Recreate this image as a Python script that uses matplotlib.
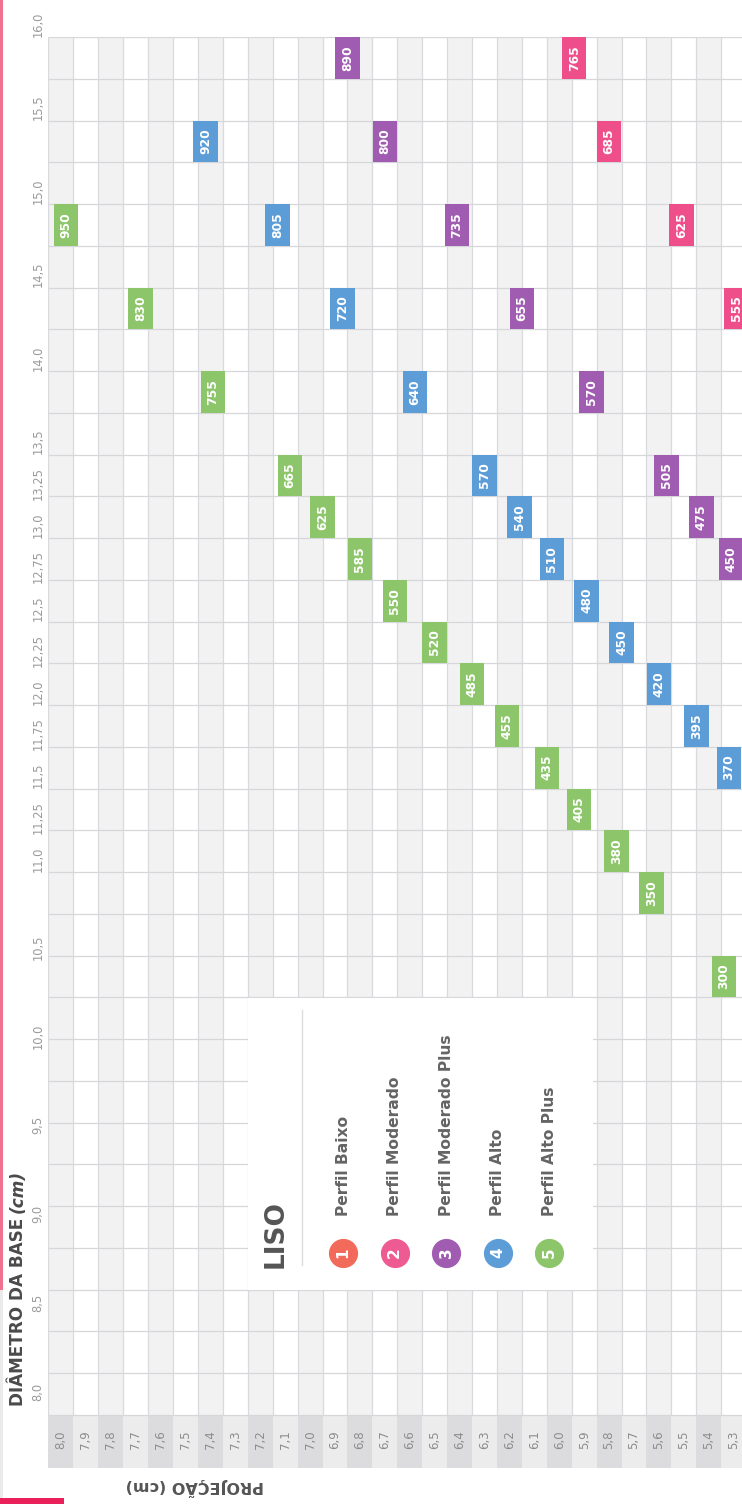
import numpy as np
import matplotlib
matplotlib.use('Agg')
import matplotlib.pyplot as plt
from matplotlib.patches import Rectangle

plt.rcParams['font.family'] = ['DejaVu Sans']

# data
#-------------------------------------------------------------------------------
# projection columns (cm), left to right
projCols = [8.0, 7.9, 7.8, 7.7, 7.6, 7.5, 7.4, 7.3, 7.2, 7.1, 7.0, 6.9, 6.8, 6.7,
            6.6, 6.5, 6.4, 6.3, 6.2, 6.1, 6.0, 5.9, 5.8, 5.7, 5.6, 5.5, 5.4, 5.3]
projLabels = ['8,0', '7,9', '7,8', '7,7', '7,6', '7,5', '7,4', '7,3', '7,2', '7,1',
              '7,0', '6,9', '6,8', '6,7', '6,6', '6,5', '6,4', '6,3', '6,2', '6,1',
              '6,0', '5,9', '5,8', '5,7', '5,6', '5,5', '5,4', '5,3']

# base diameter ticks (cm)
diamTicks = [16.0, 15.5, 15.0, 14.5, 14.0, 13.5, 13.25, 13.0, 12.75, 12.5, 12.25,
             12.0, 11.75, 11.5, 11.25, 11.0, 10.5, 10.0, 9.5, 9.0, 8.5, 8.0]
diamLabels = ['16,0', '15,5', '15,0', '14,5', '14,0', '13,5', '13,25', '13,0',
              '12,75', '12,5', '12,25', '12,0', '11,75', '11,5', '11,25', '11,0',
              '10,5', '10,0', '9,5', '9,0', '8,5', '8,0']

# series: volume, diameter, projection
altoPlusVol  = [950, 830, 755, 665, 625, 585, 550, 520, 485, 455, 435, 405, 380, 350, 300]
altoPlusDiam = [15.0, 14.5, 14.0, 13.5, 13.25, 13.0, 12.75, 12.5, 12.25, 12.0, 11.75,
                11.5, 11.25, 11.0, 10.5]
altoPlusProj = [7.98, 7.68, 7.39, 7.08, 6.95, 6.80, 6.66, 6.50, 6.35, 6.21, 6.05,
                5.92, 5.77, 5.63, 5.34]

altoVol  = [920, 805, 720, 640, 570, 540, 510, 480, 450, 420, 395, 370]
altoDiam = [15.5, 15.0, 14.5, 14.0, 13.5, 13.25, 13.0, 12.75, 12.5, 12.25, 12.0, 11.75]
altoProj = [7.42, 7.13, 6.87, 6.58, 6.30, 6.16, 6.03, 5.89, 5.75, 5.60, 5.45, 5.32]

modPlusVol  = [890, 800, 735, 655, 570, 505, 475, 450]
modPlusDiam = [16.0, 15.5, 15.0, 14.5, 14.0, 13.5, 13.25, 13.0]
modPlusProj = [6.85, 6.70, 6.41, 6.15, 5.87, 5.57, 5.43, 5.31]

modVol  = [765, 685, 625, 555]
modDiam = [16.0, 15.5, 15.0, 14.5]
modProj = [5.94, 5.80, 5.51, 5.29]

legendNames = ['Perfil Baixo', 'Perfil Moderado', 'Perfil Moderado Plus',
               'Perfil Alto', 'Perfil Alto Plus']
legendColors = ['#f26a5a', '#ee5b93', '#a05cb0', '#5c9dd8', '#8dc66a']

# figure
#-------------------------------------------------------------------------------
W, H = 742, 1504
fig = plt.figure(figsize=(W/100, H/100), dpi=100)

pxPerUnitY = 167.0   # pixels per cm of diameter
axTop, axBot = 37, 1468
axLeft = 48.4
ax = fig.add_axes([axLeft/W, (H-axBot)/H, (W-axLeft)/W, (axBot-axTop)/H])
yLow = 8.0 - (axBot - 1373)/pxPerUnitY
ax.set_ylim(yLow, 16.0)
ax.set_xlim(8.05, 8.05 - (W-axLeft)/249.2)
for s in ax.spines.values():
    s.set_visible(False)
ax.set_xticks([])
ax.set_yticks([])

# column shading + header band
gridBot = 7.75
bodyCols = ['#f2f2f3' if i % 2 == 0 else '#ffffff' for i in range(len(projCols))]
headCols = ['#dcdcde' if i % 2 == 0 else '#ececed' for i in range(len(projCols))]
ax.bar(projCols, 16.0-gridBot, bottom=gridBot, width=0.1, color=bodyCols, zorder=0)
ax.bar(projCols, gridBot-yLow, bottom=yLow, width=0.1, color=headCols, zorder=0)

# grid lines
bounds = [p + 0.05 for p in projCols] + [projCols[-1] - 0.05]
ax.vlines(bounds, gridBot, 16.0, color='#d9dadd', lw=0.9, zorder=1)
ax.hlines(np.arange(gridBot, 16.01, 0.25), 8.05, 5.2, color='#d6d7da', lw=0.9, zorder=1)

# header labels
for p, lab in zip(projCols, projLabels):
    ax.text(p, 7.60, lab, rotation=90, ha='center', va='center',
            fontsize=8.5, color='#8c8c8c', zorder=3)

# diameter labels (left side)
for d, lab in zip(diamTicks, diamLabels):
    down = -13 if d >= 11 else -13 + 10.5*(11 - d)
    ax.annotate(lab, xy=(0, d), xycoords=('axes fraction', 'data'),
                xytext=(-10.5, -down), textcoords='offset pixels',
                rotation=90, ha='center', va='center', fontsize=8.3,
                color='#9a9a9a', annotation_clip=False)

# value boxes
series = [(altoPlusVol, altoPlusDiam, altoPlusProj, legendColors[4]),
          (altoVol, altoDiam, altoProj, legendColors[3]),
          (modPlusVol, modPlusDiam, modPlusProj, legendColors[2]),
          (modVol, modDiam, modProj, '#ee4f8a')]
for vols, diams, projs, col in series:
    ax.bar(projs, 0.25, bottom=np.array(diams)-0.25, width=0.098, color=col, zorder=4)
    for v, d, p in zip(vols, diams, projs):
        ax.text(p, d-0.125, str(v), rotation=90, ha='center', va='center',
                fontsize=8.8, fontweight='bold', color='white', zorder=5)

# legend box
#-------------------------------------------------------------------------------
lx0, lx1, ly0, ly1 = 248, 593, 998, 1290
lg = fig.add_axes([lx0/W, (H-ly1)/H, (lx1-lx0)/W, (ly1-ly0)/H])
lg.set_xlim(lx0, lx1)
lg.set_ylim(ly1, ly0)
lg.set_facecolor('white')
for s in lg.spines.values():
    s.set_visible(False)
lg.set_xticks([])
lg.set_yticks([])

lg.text(276, 1268, 'LISO', rotation=90, ha='center', va='bottom',
        fontsize=19, fontweight='bold', color='#555555')
lg.plot([302, 302], [1010, 1265], color='#dddddd', lw=1)
for k, (name, col) in enumerate(zip(legendNames, legendColors)):
    xk = 343 + 51.6*k
    lg.scatter(xk, 1253, s=400, color=col, zorder=3)
    lg.text(xk, 1253, str(k+1), rotation=90, ha='center', va='center',
            fontsize=11, fontweight='bold', color='white', zorder=4)
    lg.text(xk, 1216, name, rotation=90, ha='center', va='bottom',
            fontsize=11.2, fontweight='bold', color='#646464')

# titles and decorations
#-------------------------------------------------------------------------------
t1 = fig.text(18/W, (H-1406)/H, 'DIÂMETRO DA BASE', rotation=90, ha='center',
              va='bottom', fontsize=12.2, fontweight='bold', color='#4a4a4a')
fig.canvas.draw()
bb = t1.get_window_extent()
fig.text(18/W, (bb.y1 + 5)/H, '(cm)', rotation=90, ha='center', va='bottom',
         fontsize=12.2, fontweight='bold', style='italic', color='#4a4a4a')

fig.text(195/W, (H-1487)/H, 'PROJEÇÃO (cm)', rotation=180, ha='center',
         va='center', fontsize=11.5, fontweight='bold', color='#555555')

fig.add_artist(Rectangle((0, (H-1290)/H), 3/W, 1290/H, transform=fig.transFigure,
                         color='#f07190', lw=0))
fig.add_artist(Rectangle((0, 0), 3/W, (H-1290)/H, transform=fig.transFigure,
                         color='#ebebeb', lw=0))
fig.add_artist(Rectangle((0, 0), 64/W, 6/H, transform=fig.transFigure,
                         color='#e9205a', lw=0))

fig.savefig('out.png', dpi=100)
